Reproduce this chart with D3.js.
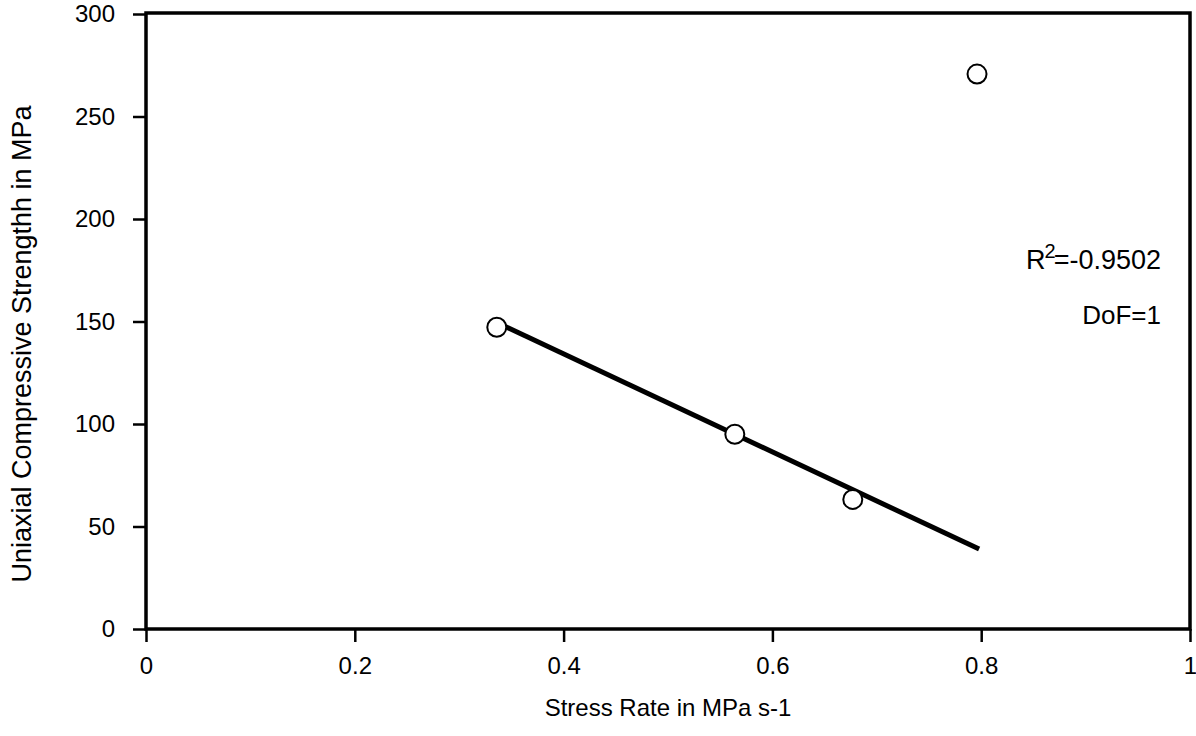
<!DOCTYPE html>
<html>
<head>
<meta charset="utf-8">
<script src="https://cdn.jsdelivr.net/npm/d3@7"></script>
<style>
  body { margin: 0; background: #fff; }
  text { font-family: "Liberation Sans", Arial, sans-serif; fill: #000; }
</style>
</head>
<body>
<svg width="1196" height="736"></svg>
<script>
const svg = d3.select('svg')

// data
const stressRate = [0.336, 0.564, 0.677, 0.796]
const strength = [147.2, 95.0, 63.2, 270.7]
const fitX = [0.336, 0.798]
const fitY = [149.5, 39]
const xTicks = [0, 0.2, 0.4, 0.6, 0.8, 1]
const yTicks = [0, 50, 100, 150, 200, 250, 300]
const notes = ['=-0.9502', 'DoF=1']

const margin = {left: 146, right: 6, top: 14, bottom: 107}
const width = 1196, height = 736
const innerWidth = width - margin.left - margin.right
const innerHeight = height - margin.top - margin.bottom

const xScale = d3.scaleLinear().domain([0, 1]).range([0, innerWidth])
const yScale = d3.scaleLinear().domain([0, 300]).range([innerHeight, 0])

const g = svg.append('g')
  .attr('transform', `translate(${margin.left}, ${margin.top})`)

// frame
g.append('rect')
  .attr('x', 0).attr('y', -1)
  .attr('width', innerWidth).attr('height', innerHeight + 1)
  .attr('fill', 'none').attr('stroke', '#000').attr('stroke-width', 3.5)

const xAxis = g.append('g')
  .attr('transform', `translate(0, ${innerHeight})`)
  .call(d3.axisBottom(xScale).tickValues(xTicks).tickFormat(d => d).tickSize(13).tickPadding(15))
xAxis.select('.domain').remove()
xAxis.selectAll('line').attr('stroke-width', 2.5)
xAxis.selectAll('text').style('font-size', '24px').style('font-family', '"Liberation Sans", Arial, sans-serif')

const yAxis = g.append('g')
  .call(d3.axisLeft(yScale).tickValues(yTicks).tickSize(13).tickPadding(18))
yAxis.select('.domain').remove()
yAxis.selectAll('line').attr('stroke-width', 2.5)
yAxis.selectAll('text').style('font-size', '24px').style('font-family', '"Liberation Sans", Arial, sans-serif')

// regression line
const line = d3.line().x(d => xScale(d[0])).y(d => yScale(d[1]))
g.append('path')
  .datum(d3.zip(fitX, fitY))
  .attr('d', line)
  .attr('fill', 'none')
  .attr('stroke', '#000')
  .attr('stroke-width', 5)

// points
g.selectAll('circle')
  .data(d3.zip(stressRate, strength))
  .enter()
  .append('circle')
  .attr('cx', d => xScale(d[0]))
  .attr('cy', d => yScale(d[1]))
  .attr('r', 9.5)
  .attr('fill', '#fff')
  .attr('stroke', '#000')
  .attr('stroke-width', 2)

// annotations
const r2 = svg.append('text')
  .attr('x', 1161).attr('y', 269)
  .attr('text-anchor', 'end')
  .style('font-size', '27px')
r2.append('tspan').text('R')
r2.append('tspan').attr('dx', -1).attr('dy', -11).style('font-size', '20px').text('2')
r2.append('tspan').attr('dx', -2).attr('dy', 11).text(notes[0])

svg.append('text')
  .attr('x', 1161).attr('y', 324)
  .attr('text-anchor', 'end')
  .style('font-size', '26px')
  .text(notes[1])

// axis titles
svg.append('text')
  .attr('x', 668).attr('y', 716)
  .attr('text-anchor', 'middle')
  .style('font-size', '24px')
  .text('Stress Rate in MPa s-1')

svg.append('text')
  .attr('transform', `translate(31, 344) rotate(-90)`)
  .attr('text-anchor', 'middle')
  .style('font-size', '27px')
  .text('Uniaxial Compressive Strengthh in MPa')
</script>
</body>
</html>
